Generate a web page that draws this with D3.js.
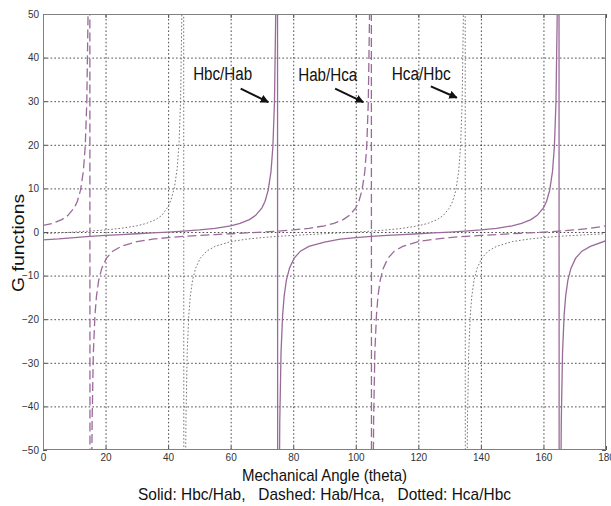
<!DOCTYPE html>
<html>
<head>
<meta charset="utf-8">
<script src="https://cdn.jsdelivr.net/npm/d3@7/dist/d3.min.js"></script>
<style>
  body { margin: 0; background: #fff; }
  text { font-family: "Liberation Sans Narrow", "Liberation Sans", Arial, sans-serif; }
</style>
</head>
<body>
<div id="chart"></div>
<script>

// axis ticks
var angleTicks = [0, 20, 40, 60, 80, 100, 120, 140, 160, 180];
var gTicks = [-50, -40, -30, -20, -10, 0, 10, 20, 30, 40, 50];

// Solid: Hbc/Hab  [angle, G]  (values beyond +-50 run off the plot at the poles)
var hbcHab = [
    [0, -1.8], [5, -1.6], [10, -1.28], [15, -1.0], [20, -0.78], [25, -0.58], [30, -0.4], [35, -0.22],
    [40, -0.02], [45, 0.21], [50, 0.48], [55, 0.85], [60, 1.42], [63, 1.96], [66, 2.83], [68, 3.81],
    [70, 5.55], [71, 7.07], [72, 9.59], [72.9, 13.9], [73.5, 19.6], [74, 29.7], [74.4, 49.7], [74.9, 300],
    [75.1, -301], [75.4, -75.6], [75.7, -43.4], [76.1, -27.7], [76.6, -19.2], [77.1, -14.7], [77.8, -11.1],
    [78.8, -8.3], [80.3, -6.0], [82.3, -4.4], [85, -3.3], [90, -2.3], [95, -1.65], [100, -1.28], [105, -1.0],
    [110, -0.78], [115, -0.58], [120, -0.4], [125, -0.22], [130, -0.02], [135, 0.21], [140, 0.48], [145, 0.85],
    [150, 1.42], [153, 1.96], [156, 2.83], [158, 3.81], [160, 5.55], [161, 7.07], [162, 9.59], [162.9, 13.9],
    [163.5, 19.6], [164, 29.7], [164.4, 49.7], [164.9, 300],
    [165.1, -301], [165.4, -75.6], [165.7, -43.4], [166.1, -27.7], [166.6, -19.2], [167.1, -14.7],
    [167.8, -11.1], [168.8, -8.3], [170.3, -6.0], [172.3, -4.4], [175, -3.3], [180, -2.0]
];

// Dashed: Hab/Hca
var habHca = [
    [0, 1.5], [3, 1.96], [6, 2.83], [8, 3.81], [10, 5.55], [11, 7.07], [12, 9.59], [12.9, 13.9],
    [13.5, 19.6], [14, 29.7], [14.4, 49.7], [14.9, 300],
    [15.1, -301], [15.4, -75.6], [15.7, -43.4], [16.1, -27.7], [16.6, -19.2], [17.1, -14.7], [17.8, -11.1],
    [18.8, -8.3], [20.3, -6.0], [22.3, -4.4], [25, -3.3], [30, -2.2], [35, -1.65], [40, -1.28], [45, -1.0],
    [50, -0.78], [55, -0.58], [60, -0.4], [65, -0.22], [70, -0.02], [75, 0.21], [80, 0.48], [85, 0.85],
    [90, 1.42], [93, 1.96], [96, 2.83], [98, 3.81], [100, 5.55], [101, 7.07], [102, 9.59], [102.9, 13.9],
    [103.5, 19.6], [104, 29.7], [104.4, 49.7], [104.9, 300],
    [105.1, -301], [105.4, -75.6], [105.7, -43.4], [106.1, -27.7], [106.6, -19.2], [107.1, -14.7],
    [107.8, -11.1], [108.8, -8.3], [110.3, -6.0], [112.3, -4.4], [115, -3.3], [120, -2.2], [125, -1.65],
    [130, -1.28], [135, -1.0], [140, -0.78], [145, -0.58], [150, -0.4], [155, -0.22], [160, -0.02],
    [165, 0.21], [170, 0.48], [175, 0.85], [180, 1.42]
];

// Dotted: Hca/Hbc
var hcaHbc = [
    [0, -0.4], [5, -0.22], [10, -0.02], [15, 0.21], [20, 0.48], [25, 0.85], [30, 1.42], [33, 1.96],
    [36, 2.83], [38, 3.81], [40, 5.8], [41, 7.5], [42, 10.2], [42.9, 14.5], [43.5, 20.5], [44, 30.5],
    [44.4, 50.5], [44.9, 300],
    [45.1, -301], [45.4, -75.6], [45.7, -43.4], [46.1, -27.7], [46.6, -19.2], [47.1, -14.7], [47.8, -11.1],
    [48.8, -8.3], [50.3, -6.0], [52.3, -4.4], [55, -3.3], [60, -2.2], [65, -1.65], [70, -1.28], [75, -1.0],
    [80, -0.78], [85, -0.58], [90, -0.4], [95, -0.22], [100, -0.02], [105, 0.21], [110, 0.48], [115, 0.85],
    [120, 1.42], [123, 1.96], [126, 2.83], [128, 3.81], [130, 5.55], [131, 7.07], [132, 9.59], [132.9, 13.9],
    [133.5, 19.6], [134, 29.7], [134.4, 49.7], [134.9, 300],
    [135.1, -301], [135.4, -75.6], [135.7, -43.4], [136.1, -27.7], [136.6, -19.2], [137.1, -14.7],
    [137.8, -11.1], [138.8, -8.3], [140.3, -6.0], [142.3, -4.4], [145, -3.3], [150, -2.2], [155, -1.65],
    [160, -1.28], [165, -1.0], [170, -0.78], [175, -0.58], [180, -0.4]
];

// arrow labels, in data units
var noteLabels = ["Hbc/Hab", "Hab/Hca", "Hca/Hbc"];
var noteText = [[48, 34.8], [81.6, 34.6], [111.5, 34.9]];
var noteArrows = [[63.2, 32.9, 72.0, 29.8], [93.4, 32.9, 102.4, 29.8], [124.0, 33.4, 132.3, 30.8]];

var W = 611, H = 506;
var margin = { top: 14, right: 5, bottom: 56, left: 43 };
var width = W - margin.left - margin.right;
var height = H - margin.top - margin.bottom;

var lineColor = "#9a6a9a";

var xScale = d3.scaleLinear().domain([0, 180]).range([margin.left, margin.left + width]);
var yScale = d3.scaleLinear().domain([-50, 50]).range([margin.top + height, margin.top]);

var svg = d3.select("#chart")
    .append("svg")
    .attr("width", W)
    .attr("height", H)
    .style("display", "block");

svg.append("defs")
    .append("clipPath")
    .attr("id", "plotClip")
    .append("rect")
    .attr("x", margin.left)
    .attr("y", margin.top)
    .attr("width", width)
    .attr("height", height);

svg.select("defs")
    .append("marker")
    .attr("id", "head")
    .attr("viewBox", "0 0 10 10")
    .attr("refX", 9)
    .attr("refY", 5)
    .attr("markerWidth", 4.2)
    .attr("markerHeight", 4.2)
    .attr("orient", "auto")
    .append("path")
    .attr("d", "M0,0 L10,5 L0,10 z")
    .style("fill", "#111");

// grid
svg.append("g")
    .attr("class", "grid")
    .attr("transform", "translate(0," + (margin.top + height) + ")")
    .call(d3.axisBottom(xScale).tickValues(angleTicks.slice(1, -1)).tickSize(-height).tickFormat(""));

svg.append("g")
    .attr("class", "grid")
    .attr("transform", "translate(" + margin.left + ",0)")
    .call(d3.axisLeft(yScale).tickValues(gTicks.slice(1, -1)).tickSize(-width).tickFormat(""));

svg.selectAll(".grid .domain").remove();
svg.selectAll(".grid line")
    .style("stroke", "#3a3a3a")
    .style("stroke-width", 0.9)
    .style("stroke-dasharray", "1.6,2.2");

// curves
var line = d3.line()
    .x(function (d) { return xScale(d[0]); })
    .y(function (d) { return yScale(d[1]); });

var curves = svg.append("g").attr("clip-path", "url(#plotClip)");

curves.append("path")
    .datum(hcaHbc)
    .attr("d", line)
    .style("fill", "none")
    .style("stroke", "#7d727d")
    .style("stroke-width", 1)
    .style("stroke-dasharray", "1.6,2");

curves.append("path")
    .datum(habHca)
    .attr("d", line)
    .style("fill", "none")
    .style("stroke", lineColor)
    .style("stroke-width", 1.3)
    .style("stroke-dasharray", "9,4");

curves.append("path")
    .datum(hbcHab)
    .attr("d", line)
    .style("fill", "none")
    .style("stroke", lineColor)
    .style("stroke-width", 1.3);

// box + ticks
var xAxis = d3.axisBottom(xScale).tickValues(angleTicks).tickSize(-4).tickPadding(4);
var yAxis = d3.axisLeft(yScale).tickValues(gTicks).tickSize(-4).tickPadding(4);

svg.append("g")
    .attr("class", "axis")
    .attr("transform", "translate(0," + (margin.top + height) + ")")
    .call(xAxis);
svg.append("g")
    .attr("class", "axis")
    .attr("transform", "translate(" + margin.left + ",0)")
    .call(yAxis);
svg.append("g")
    .attr("class", "axis")
    .attr("transform", "translate(0," + margin.top + ")")
    .call(d3.axisTop(xScale).tickValues(angleTicks).tickSize(-4).tickFormat(""));
svg.append("g")
    .attr("class", "axis")
    .attr("transform", "translate(" + (margin.left + width) + ",0)")
    .call(d3.axisRight(yScale).tickValues(gTicks).tickSize(-4).tickFormat(""));

svg.selectAll(".axis .domain").remove();
svg.selectAll(".axis line").style("stroke", "#555");
svg.selectAll(".axis text")
    .style("font-size", "10px")
    .style("fill", "#333");

svg.append("rect")
    .attr("x", margin.left + 0.5)
    .attr("y", margin.top + 0.5)
    .attr("width", width - 1)
    .attr("height", height - 1)
    .style("fill", "none")
    .style("stroke", "#808080")
    .style("stroke-width", 1);

// labels
svg.append("text")
    .attr("x", xScale(90))
    .attr("y", 481)
    .attr("text-anchor", "middle")
    .attr("textLength", 165)
    .attr("lengthAdjust", "spacingAndGlyphs")
    .style("font-size", "17px")
    .style("fill", "#111")
    .text("Mechanical Angle (theta)");

svg.append("text")
    .attr("x", xScale(90))
    .attr("y", 500)
    .attr("text-anchor", "middle")
    .attr("textLength", 373)
    .attr("lengthAdjust", "spacingAndGlyphs")
    .attr("xml:space", "preserve")
    .style("white-space", "pre")
    .style("font-size", "17px")
    .style("fill", "#111")
    .text("Solid: Hbc/Hab,   Dashed: Hab/Hca,   Dotted: Hca/Hbc");

svg.append("text")
    .attr("transform", "translate(24," + yScale(-2.5) + ") rotate(-90)")
    .attr("text-anchor", "middle")
    .attr("textLength", 98)
    .attr("lengthAdjust", "spacingAndGlyphs")
    .style("font-family", "'Liberation Sans', Arial, sans-serif")
    .style("font-size", "17px")
    .style("fill", "#111")
    .text("G functions");

// annotations
var notes = svg.selectAll("g.note")
    .data(noteLabels)
    .enter()
    .append("g")
    .attr("class", "note");

notes.append("text")
    .attr("x", function (d, i) { return xScale(noteText[i][0]); })
    .attr("y", function (d, i) { return yScale(noteText[i][1]); })
    .attr("textLength", 59)
    .attr("lengthAdjust", "spacingAndGlyphs")
    .style("font-size", "18px")
    .style("fill", "#111")
    .text(function (d) { return d; });

notes.append("line")
    .attr("x1", function (d, i) { return xScale(noteArrows[i][0]); })
    .attr("y1", function (d, i) { return yScale(noteArrows[i][1]); })
    .attr("x2", function (d, i) { return xScale(noteArrows[i][2]); })
    .attr("y2", function (d, i) { return yScale(noteArrows[i][3]); })
    .attr("marker-end", "url(#head)")
    .style("stroke", "#111")
    .style("stroke-width", 2);

</script>
</body>
</html>
